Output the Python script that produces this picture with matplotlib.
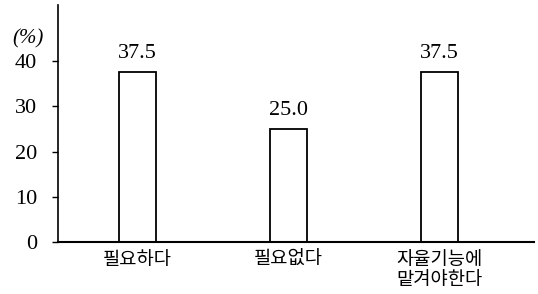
import matplotlib
matplotlib.use("Agg")
import matplotlib.pyplot as plt

categories = ["필요하다", "필요없다", "자율기능에\n맡겨야한다"]
values = [37.5, 25.0, 37.5]
value_labels = ["37.5", "25.0", "37.5"]
yticks = [0, 10, 20, 30, 40]

fig = plt.figure(figsize=(5.38, 2.94), dpi=100)
ax = fig.add_axes([0.108, 0.177, 0.885, 0.806])

x = list(range(len(categories)))
ax.bar(x, values, width=0.245, color="white", edgecolor="black", linewidth=1.3)

for xi, v, lab in zip(x, values, value_labels):
    ax.text(xi, v + 2.0, lab, ha="center", va="bottom",
            family="Liberation Serif", fontsize=16)

ax.set_xlim(-0.523, 2.63)
ax.set_ylim(0, 52.4)

ax.set_yticks(yticks)
ax.set_yticklabels([str(t) for t in yticks], family="Liberation Serif", fontsize=16)
ax.tick_params(axis="y", direction="out", length=4, width=1, pad=11)

ax.set_xticks(x)
ax.set_xticklabels(categories, family="Noto Sans CJK KR", fontsize=13.5,
                   linespacing=0.95)
ax.tick_params(axis="x", length=0, pad=5)

for s in ["top", "right"]:
    ax.spines[s].set_visible(False)
ax.spines["left"].set_linewidth(1.2)
ax.spines["bottom"].set_linewidth(1.5)

fig.text(0.022, 0.835, "(%)", family="Liberation Serif", style="italic",
         fontsize=15, ha="left", va="bottom")

fig.savefig("out.png", dpi=100)
